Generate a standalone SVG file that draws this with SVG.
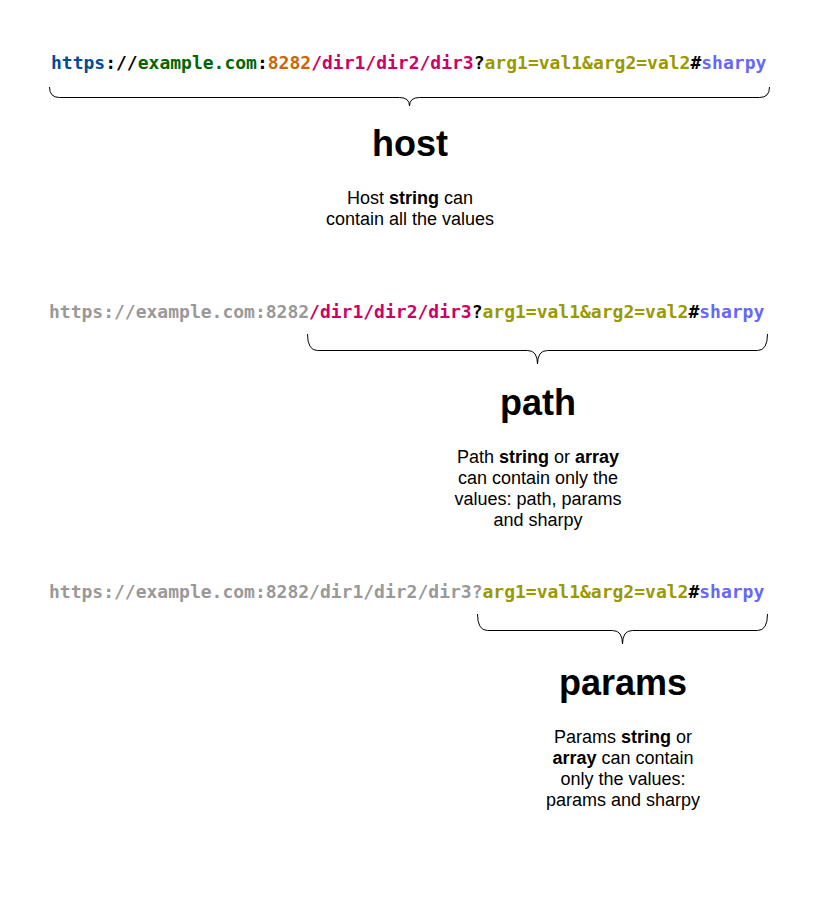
<svg xmlns="http://www.w3.org/2000/svg" width="834" height="901" viewBox="0 0 834 901">
<style>
.url{font-family:"DejaVu Sans Mono",monospace;font-size:18px;font-weight:bold;}
.title{font-family:"Liberation Sans",Arial,sans-serif;font-size:36px;font-weight:bold;fill:#000;text-anchor:middle;}
.desc{font-family:"Liberation Sans",Arial,sans-serif;font-size:18px;fill:#000;text-anchor:middle;}
.b{font-weight:bold;}
.brace{fill:none;stroke:#000;stroke-width:1;}
.sch{fill:#004C99;}.dom{fill:#006600;}.port{fill:#CC6600;}.pth{fill:#CC0066;}.prm{fill:#999900;}.shp{fill:#6666FF;}.blk{fill:#000;}.gr{fill:#999999;}
</style>
<rect width="834" height="901" fill="#fff"/>
<g id="host">
<text class="url" x="51" y="69"><tspan class="sch">https</tspan><tspan class="blk">://</tspan><tspan class="dom">example.com</tspan><tspan class="blk">:</tspan><tspan class="port">8282</tspan><tspan class="pth">/dir1/dir2/dir3</tspan><tspan class="blk">?</tspan><tspan class="prm">arg1=val1&amp;arg2=val2</tspan><tspan class="blk">#</tspan><tspan class="shp">sharpy</tspan></text>
<text class="title" x="410" y="156">host</text>
<text class="desc" x="410" y="204">Host <tspan class="b">string</tspan> can</text>
<text class="desc" x="410" y="225">contain all the values</text>
</g>
<g id="path">
<text class="url" x="49" y="318"><tspan class="gr">https://example.com:8282</tspan><tspan class="pth">/dir1/dir2/dir3</tspan><tspan class="blk">?</tspan><tspan class="prm">arg1=val1&amp;arg2=val2</tspan><tspan class="blk">#</tspan><tspan class="shp">sharpy</tspan></text>
<text class="title" x="538" y="415">path</text>
<text class="desc" x="538" y="463">Path <tspan class="b">string</tspan> or <tspan class="b">array</tspan></text>
<text class="desc" x="538" y="484">can contain only the</text>
<text class="desc" x="538" y="505">values: path, params</text>
<text class="desc" x="538" y="526">and sharpy</text>
</g>
<g id="params">
<text class="url" x="49" y="598"><tspan class="gr">https://example.com:8282/dir1/dir2/dir3?</tspan><tspan class="prm">arg1=val1&amp;arg2=val2</tspan><tspan class="blk">#</tspan><tspan class="shp">sharpy</tspan></text>
<text class="title" x="623" y="695">params</text>
<text class="desc" x="623" y="743">Params <tspan class="b">string</tspan> or</text>
<text class="desc" x="623" y="764"><tspan class="b">array</tspan> can contain</text>
<text class="desc" x="623" y="785">only the values:</text>
<text class="desc" x="623" y="806">params and sharpy</text>
</g>
<g id="connectors">
<path class="brace" d="M49.5,87 Q49.5,97.5 59.5,97.5 L399.5,97.5 Q409.5,97.5 409.5,106 Q409.5,97.5 419.5,97.5 L759.5,97.5 Q769.5,97.5 769.5,87"/>
<path class="brace" d="M307.5,334 Q307.5,350.5 317.5,350.5 L527.5,350.5 Q537.5,350.5 537.5,364 Q537.5,350.5 547.5,350.5 L757.5,350.5 Q767.5,350.5 767.5,334"/>
<path class="brace" d="M477.5,614 Q477.5,630.5 487.5,630.5 L612.5,630.5 Q622.5,630.5 622.5,644 Q622.5,630.5 632.5,630.5 L757.5,630.5 Q767.5,630.5 767.5,614"/>
</g>
</svg>
